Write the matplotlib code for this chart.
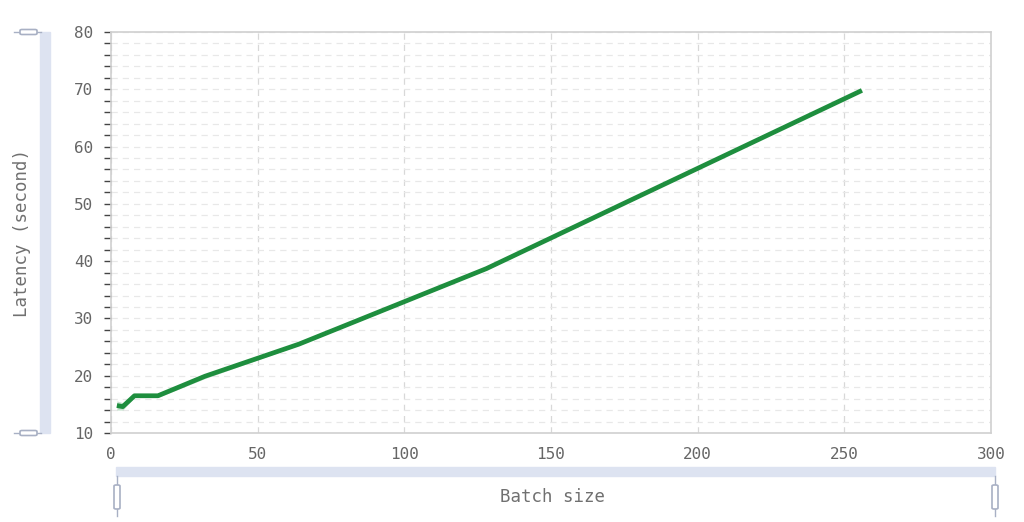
import matplotlib
matplotlib.use("Agg")
import matplotlib.pyplot as plt
from matplotlib.patches import Rectangle, FancyBboxPatch
from matplotlib.lines import Line2D
from matplotlib.ticker import MultipleLocator

# --- data --- #
batch_size = [2, 4, 8, 16, 32, 64, 128, 256]
latency = [14.8, 14.6, 16.5, 16.5, 19.9, 25.5, 38.7, 69.8]
latency_lo = [14.0, 14.0, 16.2, 16.2, 19.5, 25.3, 38.5, 69.7]
latency_hi = [15.6, 15.3, 16.8, 16.8, 20.3, 25.7, 38.9, 69.9]

x_ticks = [0, 50, 100, 150, 200, 250, 300]
y_ticks = [10, 20, 30, 40, 50, 60, 70, 80]

W, H = 1024, 522
fig = plt.figure(figsize=(W / 100, H / 100), dpi=100)
ax = fig.add_axes([111 / W, (H - 433) / H, (991 - 111) / W, (433 - 32) / H])

green = '#1e8e3e'
ax.fill_between(batch_size, latency_lo, latency_hi, color=green, alpha=0.25, lw=0)
ax.plot(batch_size, latency, color=green, lw=3.4, solid_capstyle='butt')

ax.set_xlim(0, 300)
ax.set_ylim(10, 80)
ax.set_xticks(x_ticks)
ax.set_yticks(y_ticks)
ax.yaxis.set_minor_locator(MultipleLocator(2))

# grid
ax.yaxis.grid(True, which='both', ls=(0, (5, 4)), color='#e8e8e8', lw=0.9)
ax.xaxis.grid(True, which='major', ls=(0, (5, 4)), color='#d8d8d8', lw=0.9)
ax.set_axisbelow(True)

for s in ax.spines.values():
    s.set_color('#d0d0d0')
    s.set_linewidth(1.2)

mono = 'DejaVu Sans Mono'
ax.tick_params(axis='x', length=0, pad=10, labelsize=11.5, labelcolor='#666666')
ax.tick_params(axis='y', which='major', length=5, width=1, color='#444444',
               pad=8, labelsize=11.5, labelcolor='#666666')
ax.tick_params(axis='y', which='minor', length=5, width=1, color='#444444')
for label in ax.get_xticklabels() + ax.get_yticklabels():
    label.set_fontfamily(mono)

# --- slider decorations --- #
slider = '#dde3f1'
handle = '#a8b0c4'

# left vertical bar
fig.patches.append(Rectangle((40 / W, (H - 433) / H), 10 / W, (433 - 32) / H,
                             transform=fig.transFigure, color=slider, zorder=0))
for yy in (32, 433):
    fig.lines.append(Line2D([14 / W, 41 / W], [(H - yy) / H] * 2,
                            transform=fig.transFigure, color=handle, lw=1))
    fig.patches.append(FancyBboxPatch((20 / W, (H - yy - 2.5) / H), 17 / W, 5 / H,
                                      boxstyle='round,pad=0,rounding_size=0.002',
                                      transform=fig.transFigure, fc='white',
                                      ec=handle, lw=1.2, zorder=3))

# bottom horizontal bar
fig.patches.append(Rectangle((116 / W, (H - 476) / H), (995 - 116) / W, 9 / H,
                             transform=fig.transFigure, color=slider, zorder=0))
for xx in (117, 995):
    fig.lines.append(Line2D([xx / W] * 2, [(H - 476) / H, (H - 516) / H],
                            transform=fig.transFigure, color=handle, lw=1))
    fig.patches.append(FancyBboxPatch(((xx - 3) / W, (H - 509) / H), 6 / W, 24 / H,
                                      boxstyle='round,pad=0,rounding_size=0.002',
                                      transform=fig.transFigure, fc='white',
                                      ec=handle, lw=1.2, zorder=3))

fig.text(552 / W, (H - 497) / H, 'Batch size', ha='center', va='center',
         fontsize=12.5, color='#707070', family=mono)
fig.text(22 / W, (H - 233) / H, 'Latency (second)', ha='center', va='center',
         rotation=90, fontsize=12.5, color='#707070', family=mono)

plt.savefig('out.png', dpi=100)
